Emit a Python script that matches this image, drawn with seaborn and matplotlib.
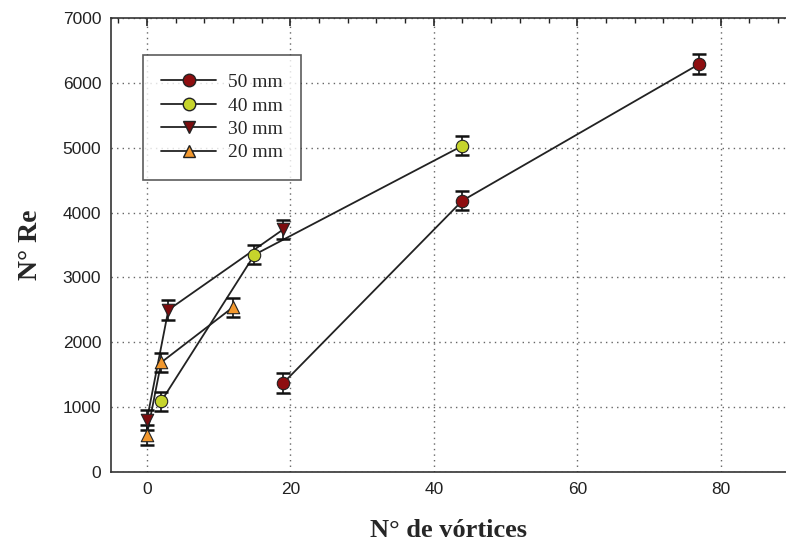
import matplotlib
matplotlib.use("Agg")
import matplotlib.pyplot as plt
from matplotlib.lines import Line2D
from matplotlib.ticker import MultipleLocator
import seaborn as sns
import pandas as pd

# ---- data ----
labels = ["50 mm", "40 mm", "30 mm", "20 mm"]
x50 = [19, 44, 77]
y50 = [1370, 4185, 6290]
x40 = [2, 15, 44]
y40 = [1090, 3350, 5030]
x30 = [0, 3, 19]
y30 = [800, 2500, 3740]
x20 = [0, 2, 12]
y20 = [570, 1690, 2540]
err = 150  # symmetric error bar half-height

xs = [x50, x40, x30, x20]
ys = [y50, y40, y30, y20]
colors = ["#8E0E10", "#C6D42C", "#7C0C0E", "#F2982E"]
markers = ["o", "o", "v", "^"]

sns.set_style("white")
plt.rcParams["font.family"] = ["Liberation Sans", "DejaVu Sans"]
serif = ["Liberation Serif", "DejaVu Serif"]

fig = plt.figure(figsize=(7.86, 5.44), dpi=100)
ax = fig.add_axes([111 / 786, (544 - 472) / 544, (786 - 111) / 786, (472 - 18) / 544])

for i, lab in enumerate(labels):
    df = pd.DataFrame({"x": xs[i], "y": ys[i]})
    sns.lineplot(data=df, x="x", y="y", ax=ax, color="#222222", lw=1.3,
                 sort=False, estimator=None, zorder=2, legend=False)
    ax.errorbar(xs[i], ys[i], yerr=err, fmt="none", ecolor="#111111",
                elinewidth=1.2, capsize=4.7, capthick=1.8, zorder=3)
    sns.scatterplot(data=df, x="x", y="y", ax=ax, color=colors[i],
                    marker=markers[i], s=80, edgecolor="#222222",
                    linewidth=0.8, zorder=4, legend=False)

ax.set_xlim(-5, 89.1)
ax.set_ylim(0, 7000)
ax.xaxis.set_major_locator(MultipleLocator(20))
ax.xaxis.set_minor_locator(MultipleLocator(4))
ax.yaxis.set_major_locator(MultipleLocator(1000))
ax.yaxis.set_minor_locator(MultipleLocator(200))
ax.tick_params(which="both", direction="in", top=True, right=False,
               colors="#222222", labelcolor="#222222")
ax.tick_params(which="major", length=6, width=1.2, labelsize=12.5, pad=7)
ax.tick_params(which="minor", length=3.5, width=1.0)
ax.grid(True, which="major", linestyle=(0, (1, 3)), color="#666666", lw=1.0)

for s in ["left", "bottom", "top"]:
    ax.spines[s].set_color("#333333")
    ax.spines[s].set_linewidth(1.2)
ax.spines["right"].set_visible(False)

ax.set_xlabel("N° de vórtices", family=serif,
              fontsize=19, fontweight="bold", labelpad=16)
ax.set_ylabel("N° Re", family=serif,
              fontsize=20, fontweight="bold", labelpad=14)

handles = [Line2D([0], [0], color="#222222", lw=1.3, marker=markers[i],
                  markerfacecolor=colors[i], markeredgecolor="#222222",
                  markersize=9)
           for i in range(len(labels))]
leg = ax.legend(handles, labels, loc="upper left",
                bbox_to_anchor=((143 - 111) / 675, (472 - 55) / 454),
                prop={"family": serif, "size": 14},
                frameon=True, fancybox=False, shadow=False, edgecolor="#333333",
                handlelength=2.8, labelspacing=0.3, borderpad=0.95,
                borderaxespad=0, handletextpad=0.6)
leg.get_frame().set_linewidth(1.2)

fig.savefig("out.png", dpi=100)
